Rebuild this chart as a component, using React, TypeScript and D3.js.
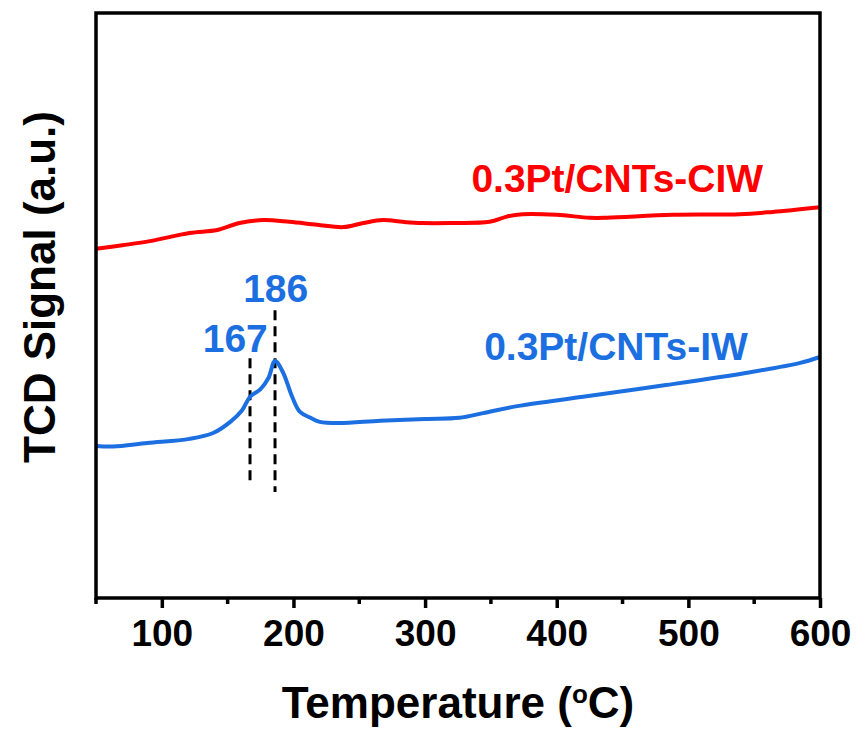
import React, { useRef, useEffect } from 'react';
import * as d3 from 'd3';

// temperatures (°C) and signal values (a.u.)
const ciwTemp = [50, 70, 91, 121, 142, 159, 177, 197, 218, 238, 253, 268, 283, 298, 319, 349, 362, 374, 400, 425, 438, 488, 539, 564, 600];
const ciwSignal = [5.97, 6.03, 6.10, 6.24, 6.29, 6.41, 6.46, 6.43, 6.38, 6.34, 6.41, 6.46, 6.43, 6.41, 6.41, 6.43, 6.52, 6.56, 6.55, 6.50, 6.50, 6.55, 6.56, 6.60, 6.68];

const iwTemp = [50, 63, 89, 121, 139, 152, 161, 167, 175, 181, 186, 192, 199, 205, 213, 220, 235, 266, 300, 326, 344, 370, 420, 483, 547, 585, 600];
const iwSignal = [2.60, 2.59, 2.65, 2.72, 2.82, 3.01, 3.21, 3.44, 3.57, 3.76, 4.05, 3.86, 3.44, 3.18, 3.08, 3.01, 2.99, 3.03, 3.06, 3.08, 3.16, 3.28, 3.44, 3.64, 3.86, 4.02, 4.12];

const majorTicks = [100, 200, 300, 400, 500, 600];
const minorTicks = [50, 150, 250, 350, 450, 550];

// peak markers: temperature, dashed line top/bottom (a.u.)
const peakTemps = [167, 186];
const peakTop = [4.10, 4.92];
const peakBottom = [1.97, 1.81];

const FONT = 'Arial, "Liberation Sans", sans-serif';
const RED = '#ff0000';
const BLUE = '#1c6fe0';

function App() {
  const chart = useRef<SVGSVGElement>(null);

  useEffect(() => {
    const svg = d3.select(chart.current);
    svg.selectAll('*').remove();

    const margin = { top: 13, right: 37, bottom: 133, left: 96 };
    const width = 857;
    const height = 731;

    const x = d3.scaleLinear().domain([50, 600]).range([margin.left, width - margin.right]);
    const y = d3.scaleLinear().domain([0, 10]).range([height - margin.bottom, margin.top]);

    const line = d3
      .line<[number, number]>()
      .x(d => x(d[0]))
      .y(d => y(d[1]))
      .curve(d3.curveCatmullRom.alpha(0.5));

    const ciw = ciwTemp.map((t, i) => [t, ciwSignal[i]] as [number, number]);
    const iw = iwTemp.map((t, i) => [t, iwSignal[i]] as [number, number]);

    // dashed peak markers
    svg
      .append('g')
      .selectAll('line')
      .data(peakTemps)
      .join('line')
      .attr('x1', d => x(d))
      .attr('x2', d => x(d))
      .attr('y1', (d, i) => y(peakTop[i]))
      .attr('y2', (d, i) => y(peakBottom[i]))
      .attr('stroke', '#000')
      .attr('stroke-width', 3)
      .attr('stroke-dasharray', '10,6');

    svg.append('path').datum(ciw).attr('d', line).attr('fill', 'none').attr('stroke', RED).attr('stroke-width', 4);
    svg.append('path').datum(iw).attr('d', line).attr('fill', 'none').attr('stroke', BLUE).attr('stroke-width', 4);

    // frame
    svg
      .append('rect')
      .attr('x', margin.left)
      .attr('y', margin.top)
      .attr('width', width - margin.left - margin.right)
      .attr('height', height - margin.top - margin.bottom)
      .attr('fill', 'none')
      .attr('stroke', '#000')
      .attr('stroke-width', 3.5);

    const xAxis = d3.axisBottom(x).tickValues(majorTicks).tickSize(10).tickPadding(12).tickFormat(d3.format('d'));
    const g = svg
      .append('g')
      .attr('transform', `translate(0,${height - margin.bottom})`)
      .call(xAxis);
    g.select('.domain').remove();
    g.selectAll('line').attr('stroke-width', 3.5);
    g.selectAll('text')
      .attr('font-family', FONT)
      .attr('font-size', 37)
      .attr('font-weight', 'bold')
      .attr('fill', '#000');

    svg
      .append('g')
      .selectAll('line')
      .data(minorTicks)
      .join('line')
      .attr('x1', d => x(d))
      .attr('x2', d => x(d))
      .attr('y1', height - margin.bottom)
      .attr('y2', height - margin.bottom + 6)
      .attr('stroke', '#000')
      .attr('stroke-width', 3.5);

    // axis titles
    const xt = svg
      .append('text')
      .attr('x', (x(50) + x(600)) / 2)
      .attr('y', 718)
      .attr('text-anchor', 'middle')
      .attr('font-family', FONT)
      .attr('font-size', 44)
      .attr('font-weight', 'bold');
    xt.append('tspan').text('Temperature (');
    xt.append('tspan').attr('font-size', 26).attr('dy', -15).text('o');
    xt.append('tspan').attr('dy', 15).text('C)');

    svg
      .append('text')
      .attr('transform', 'translate(55,287) rotate(-90)')
      .attr('text-anchor', 'middle')
      .attr('font-family', FONT)
      .attr('font-size', 44)
      .attr('font-weight', 'bold')
      .text('TCD Signal (a.u.)');

    // series labels
    const label = (t: string, tx: number, ty: number, color: string, anchor: string) =>
      svg
        .append('text')
        .attr('x', x(tx))
        .attr('y', y(ty))
        .attr('text-anchor', anchor)
        .attr('font-family', FONT)
        .attr('font-size', 39)
        .attr('font-weight', 'bold')
        .attr('fill', color)
        .text(t);

    label('0.3Pt/CNTs-CIW', 446, 6.94, RED, 'middle');
    label('0.3Pt/CNTs-IW', 445, 4.07, BLUE, 'middle');
    label('167', 180.5, 4.2, BLUE, 'end');
    label('186', 186.5, 5.06, BLUE, 'middle');
  }, []);

  return (
    <svg
      ref={chart}
      width={857}
      height={731}
      style={{ position: 'absolute', left: 0, top: 0, background: '#fff' }}
    ></svg>
  );
}

export default App;
